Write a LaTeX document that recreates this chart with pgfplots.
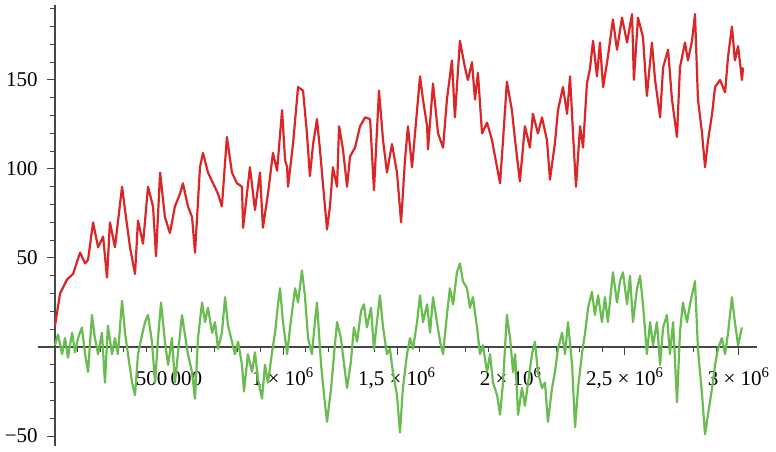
\documentclass[border=0pt]{standalone}
\usepackage{fontspec}
\setmainfont{Liberation Serif}
\usepackage{pgfplots}
\pgfplotsset{compat=1.18}
\definecolor{redline}{RGB}{218,38,38}
\definecolor{greenline}{RGB}{104,188,80}
\definecolor{axisgray}{RGB}{70,70,70}
\begin{document}
\fontsize{10.5}{12}\selectfont
\begin{tikzpicture}
\begin{axis}[
 scale only axis, width=359.5pt, height=220.5pt,
 xmin=-0.0746, xmax=3.079, ymin=-55.6, ymax=192.1,
 axis lines=middle, axis line style={-, axisgray, line width=0.6pt},
 xtick={0.5,1,1.5,2,2.5,3},
 xticklabels={{500\,000}, {1 × 10\textsuperscript{6}}, {1,5 × 10\textsuperscript{6}}, {2 × 10\textsuperscript{6}}, {2,5 × 10\textsuperscript{6}}, {3 × 10\textsuperscript{6}}},
 minor xtick={0.1,0.2,0.3,0.4,0.6,0.7,0.8,0.9,1.1,1.2,1.3,1.4,1.6,1.7,1.8,1.9,2.1,2.2,2.3,2.4,2.6,2.7,2.8,2.9},
 ytick={-50,50,100,150}, yticklabels={−50,50,100,150},
 minor ytick={-40,-30,-20,-10,10,20,30,40,60,70,80,90,110,120,130,140,160,170,180,190},
 tick align=outside,
 major tick length=4pt, minor tick length=2.5pt,
 tick style={axisgray, line width=0.5pt},
 x tick label style={anchor=base, yshift=-15pt},
 y tick label style={anchor=east, xshift=-1pt},
 /pgf/number format/assume math mode=true,
 clip=false,
 font=\fontsize{10.5}{12}\selectfont,
]
\addplot[redline, line width=1.1pt, no marks, line join=round] coordinates {
(0.000,12)(0.022,30)(0.053,38)(0.079,41)(0.110,53)(0.132,47)(0.145,49)(0.167,70)(0.189,56)(0.211,62)
(0.228,39)(0.241,70)(0.263,56)(0.294,90)(0.307,77)(0.329,56)(0.351,41)(0.364,71)(0.386,58)(0.408,90)
(0.430,79)(0.443,51)(0.461,98)(0.482,73)(0.504,64)(0.526,79)(0.548,86)(0.561,92)(0.583,79)(0.601,73)
(0.614,53)(0.636,101)(0.649,109)(0.671,98)(0.693,92)(0.715,86)(0.732,79)(0.754,118)(0.776,98)(0.798,92)
(0.820,90)(0.825,67)(0.855,101)(0.877,77)(0.899,98)(0.912,67)(0.934,86)(0.956,109)(0.974,99)(0.996,133)
(1.009,105)(1.018,101)(1.022,90)(1.044,114)(1.066,146)(1.088,144)(1.105,120)(1.118,96)(1.132,114)(1.149,128)
(1.162,111)(1.175,92)(1.193,66)(1.206,79)(1.219,101)(1.237,90)(1.246,124)(1.263,111)(1.281,90)(1.294,107)
(1.316,112)(1.338,124)(1.360,129)(1.382,128)(1.399,88)(1.421,144)(1.439,116)(1.456,98)(1.478,114)(1.500,98)
(1.518,70)(1.535,105)(1.548,124)(1.566,101)(1.579,120)(1.601,152)(1.614,139)(1.632,124)(1.636,111)(1.658,148)
(1.680,120)(1.702,112)(1.719,139)(1.741,161)(1.754,129)(1.776,172)(1.798,157)(1.811,150)(1.829,160)(1.842,139)
(1.855,154)(1.873,120)(1.895,126)(1.917,116)(1.930,107)(1.952,92)(1.965,116)(1.982,149)(2.004,133)(2.018,116)
(2.039,93)(2.061,124)(2.083,112)(2.096,131)(2.118,120)(2.136,129)(2.158,116)(2.171,94)(2.193,115)(2.206,133)
(2.228,146)(2.246,131)(2.259,152)(2.272,120)(2.285,90)(2.303,124)(2.316,112)(2.333,148)(2.346,156)(2.360,172)
(2.377,152)(2.390,171)(2.404,146)(2.425,163)(2.447,184)(2.465,167)(2.487,185)(2.509,171)(2.531,187)(2.539,150)
(2.557,185)(2.579,174)(2.596,141)(2.618,171)(2.632,150)(2.654,129)(2.667,157)(2.689,167)(2.706,139)(2.728,118)
(2.741,157)(2.763,171)(2.776,161)(2.794,172)(2.807,187)(2.820,139)(2.838,120)(2.851,101)(2.864,116)(2.882,131)
(2.895,146)(2.917,150)(2.939,143)(2.952,163)(2.969,180)(2.982,161)(2.996,169)(3.013,150)(3.018,157)
};
\addplot[greenline, line width=1.1pt, no marks, line join=round] coordinates {
(0.000,1)(0.013,7)(0.031,-4)(0.044,5)(0.057,-6)(0.075,8)(0.088,-3)(0.101,5)(0.118,11)(0.132,-4)
(0.145,-14)(0.162,18)(0.175,5)(0.189,-4)(0.206,8)(0.219,-20)(0.232,12)(0.250,-4)(0.263,5)(0.276,-4)
(0.294,26)(0.307,8)(0.320,-4)(0.338,-20)(0.351,-27)(0.364,-4)(0.382,7)(0.395,14)(0.408,18)(0.425,3)
(0.439,-20)(0.452,5)(0.465,25)(0.482,3)(0.496,-10)(0.513,5)(0.526,-20)(0.539,-4)(0.557,18)(0.570,7)
(0.583,-4)(0.601,-14)(0.614,-29)(0.627,5)(0.645,25)(0.658,14)(0.671,22)(0.689,8)(0.702,14)(0.715,-1)
(0.732,8)(0.746,28)(0.759,12)(0.776,3)(0.789,-4)(0.803,3)(0.820,-10)(0.829,-25)(0.846,-4)(0.864,-14)
(0.877,-3)(0.890,-18)(0.908,-29)(0.921,-10)(0.934,-20)(0.952,-3)(0.965,8)(0.978,24)(0.987,33)(1.000,14)
(1.018,-4)(1.031,11)(1.053,33)(1.066,25)(1.083,43)(1.096,29)(1.110,5)(1.127,-4)(1.140,14)(1.149,25)
(1.167,-10)(1.180,-27)(1.193,-42)(1.211,-23)(1.224,-4)(1.237,14)(1.254,5)(1.268,-10)(1.281,-23)(1.298,-8)
(1.311,11)(1.325,3)(1.342,20)(1.355,24)(1.368,11)(1.386,22)(1.399,-1)(1.412,14)(1.425,29)(1.439,11)
(1.456,-4)(1.469,-1)(1.482,-14)(1.500,-27)(1.513,-48)(1.526,-23)(1.544,-4)(1.557,5)(1.570,-1)(1.588,14)
(1.601,29)(1.614,14)(1.632,24)(1.645,8)(1.658,28)(1.675,14)(1.689,3)(1.702,-4)(1.719,18)(1.732,33)
(1.746,24)(1.763,42)(1.776,47)(1.789,37)(1.807,33)(1.820,22)(1.833,28)(1.851,11)(1.864,-4)(1.877,1)
(1.895,-14)(1.908,-4)(1.921,-20)(1.939,-27)(1.952,-38)(1.965,-20)(1.982,18)(1.996,5)(2.009,-14)(2.018,-4)
(2.031,-38)(2.048,-23)(2.061,-33)(2.075,-20)(2.092,-4)(2.105,3)(2.118,-14)(2.136,-23)(2.149,-20)(2.162,-42)
(2.180,-23)(2.193,-14)(2.206,-1)(2.224,8)(2.237,-4)(2.250,14)(2.268,-10)(2.281,-45)(2.294,-23)(2.311,-4)
(2.325,8)(2.338,22)(2.355,31)(2.368,18)(2.382,29)(2.399,14)(2.412,28)(2.425,14)(2.447,42)(2.465,25)
(2.478,37)(2.491,42)(2.509,24)(2.522,40)(2.535,14)(2.553,33)(2.566,40)(2.579,24)(2.596,-4)(2.610,14)
(2.623,1)(2.640,14)(2.654,-10)(2.667,11)(2.684,18)(2.697,-4)(2.711,14)(2.728,-31)(2.741,8)(2.754,25)
(2.772,14)(2.785,24)(2.807,37)(2.820,-1)(2.838,-27)(2.851,-49)(2.864,-38)(2.882,-23)(2.895,-10)(2.908,-1)
(2.925,5)(2.939,-4)(2.952,8)(2.969,28)(2.982,14)(2.996,1)(3.013,11)
};
\end{axis}
\pgfresetboundingbox
\path ([xshift=-19pt,yshift=-2.5pt]current axis.south west) rectangle ([xshift=9.5pt,yshift=2.5pt]current axis.north east);
\end{tikzpicture}
\end{document}
